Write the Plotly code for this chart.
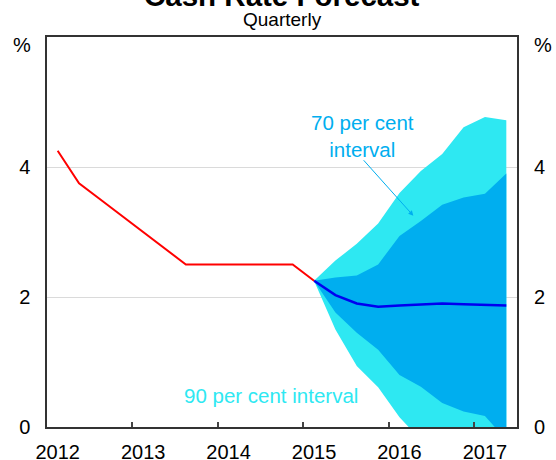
import plotly.graph_objects as go

# ---- data ----
hist_x = [2012.125, 2012.375, 2012.625, 2012.875, 2013.125, 2013.375, 2013.625,
          2013.875, 2014.125, 2014.375, 2014.625, 2014.875, 2015.125]
hist_rate = [4.25, 3.75, 3.5, 3.25, 3.0, 2.75, 2.5, 2.5, 2.5, 2.5, 2.5, 2.5, 2.25]

fc_x = [2015.125, 2015.375, 2015.625, 2015.875, 2016.125, 2016.375, 2016.625,
        2016.875, 2017.125, 2017.375]
fc_central = [2.25, 2.03, 1.90, 1.85, 1.87, 1.89, 1.90, 1.89, 1.88, 1.87]
upper90 = [2.25, 2.56, 2.82, 3.13, 3.60, 3.94, 4.20, 4.61, 4.77, 4.72]
lower90 = [2.25, 1.50, 0.94, 0.61, 0.15, -0.2, -0.5, -0.7, -0.9, -1.0]
upper70 = [2.25, 2.30, 2.33, 2.50, 2.94, 3.17, 3.42, 3.53, 3.59, 3.90]
lower70 = [2.25, 1.76, 1.45, 1.19, 0.80, 0.62, 0.37, 0.24, 0.17, -0.2]

year_ticks = [2013, 2014, 2015, 2016, 2017]
year_labels = ["2012", "2013", "2014", "2015", "2016", "2017"]
year_label_pos = [2012.125, 2013.125, 2014.125, 2015.125, 2016.125, 2017.125]
y_ticks = [0, 2, 4]

LIGHT = "#2EE8F2"
MID = "#00AEEF"
FONT = "Liberation Sans, Arial, sans-serif"

fig = go.Figure()
fig.add_trace(go.Scatter(x=fc_x, y=lower90, mode="lines", line=dict(width=0),
                         showlegend=False, hoverinfo="skip"))
fig.add_trace(go.Scatter(x=fc_x, y=upper90, mode="lines", line=dict(width=0),
                         fill="tonexty", fillcolor=LIGHT, showlegend=False, hoverinfo="skip"))
fig.add_trace(go.Scatter(x=fc_x, y=lower70, mode="lines", line=dict(width=0),
                         showlegend=False, hoverinfo="skip"))
fig.add_trace(go.Scatter(x=fc_x, y=upper70, mode="lines", line=dict(width=0),
                         fill="tonexty", fillcolor=MID, showlegend=False, hoverinfo="skip"))
fig.add_trace(go.Scatter(x=fc_x, y=fc_central, mode="lines",
                         line=dict(color="#0000F0", width=2.5), showlegend=False))
fig.add_trace(go.Scatter(x=hist_x, y=hist_rate, mode="lines",
                         line=dict(color="#FF0000", width=2), showlegend=False))
# dummy trace to activate secondary axes
fig.add_trace(go.Scatter(x=[2012.5], y=[1], xaxis="x2", yaxis="y2", mode="markers",
                         marker=dict(opacity=0), showlegend=False, hoverinfo="skip"))

fig.update_layout(
    width=556, height=460,
    margin=dict(l=47, r=39, t=37, b=33),
    paper_bgcolor="white", plot_bgcolor="white",
    font=dict(family=FONT, size=20, color="#000"),
    xaxis=dict(range=[2012, 2017.5], tickvals=year_ticks, showticklabels=False,
               ticks="inside", ticklen=5, tickwidth=1.5, tickcolor="#444",
               showgrid=False, zeroline=False, showline=True, linecolor="#333",
               linewidth=1.5, mirror=True, automargin=False),
    xaxis2=dict(range=[2012, 2017.5], overlaying="x", side="bottom",
                tickvals=year_label_pos, ticktext=year_labels, ticks="",
                showgrid=False, zeroline=False, showline=False, automargin=False,
                tickfont=dict(size=20), ticklabelstandoff=11),
    yaxis=dict(range=[0, 6], tickvals=y_ticks, ticks="", showgrid=True,
               gridcolor="#DADADA", gridwidth=1, zeroline=False, showline=True,
               linecolor="#333", linewidth=1.5, mirror=True, automargin=False,
               tickfont=dict(size=20), ticklabelstandoff=11),
    yaxis2=dict(range=[0, 6], overlaying="y", side="right", tickvals=y_ticks,
                ticks="", showgrid=False, zeroline=False, showline=False,
                automargin=False, tickfont=dict(size=20), ticklabelstandoff=16),
    annotations=[
        dict(text="<b>Cash Rate Forecast</b>", xref="paper", yref="paper", x=0.5,
             y=1.106, xanchor="center", yanchor="middle", showarrow=False,
             font=dict(size=29.5)),
        dict(text="Quarterly", xref="paper", yref="paper", x=0.5, y=1.044,
             xanchor="center", yanchor="middle", showarrow=False, font=dict(size=19)),
        dict(text="%", xref="paper", yref="paper", x=-0.053, y=0.979,
             xanchor="center", yanchor="middle", showarrow=False, font=dict(size=20)),
        dict(text="%", xref="paper", yref="paper", x=1.055, y=0.979,
             xanchor="center", yanchor="middle", showarrow=False, font=dict(size=20)),
        dict(text="70 per cent<br>interval", x=2015.69, y=4.48, xref="x", yref="y",
             showarrow=False, font=dict(size=20.5, color=MID)),
        dict(text="", x=2016.287, y=3.25, xref="x", yref="y", ax=-51, ay=-57,
             showarrow=True, arrowhead=2, arrowsize=1, arrowwidth=1, arrowcolor=MID),
        dict(text="90 per cent interval", x=2014.62, y=0.49, xref="x", yref="y",
             showarrow=False, font=dict(size=20.5, color=LIGHT)),
    ],
)

fig.write_html("out.html", config={"displayModeBar": False},
               post_script="document.body.style.margin='0';")
